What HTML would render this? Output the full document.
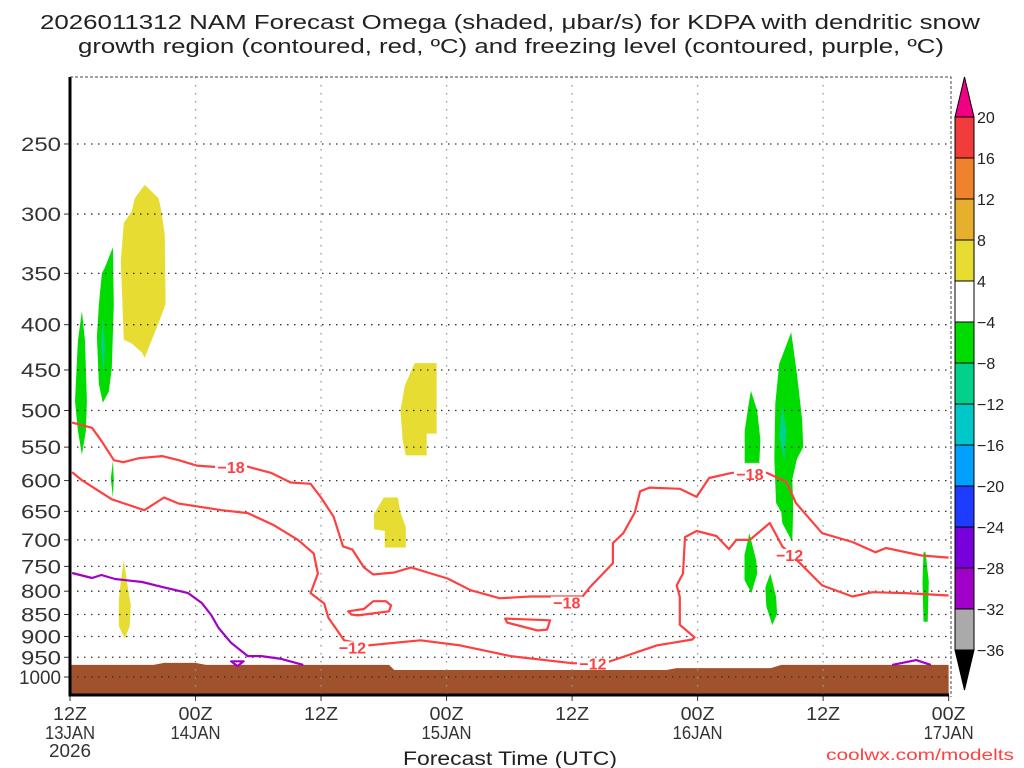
<!DOCTYPE html>
<html><head><meta charset="utf-8"><style>
html,body{margin:0;padding:0;background:#fff;}
svg{display:block;font-family:"Liberation Sans",sans-serif;}
</style></head><body>
<svg id="chart" width="1024" height="768" viewBox="0 0 1024 768" xmlns="http://www.w3.org/2000/svg">
<text x="40" y="29" font-size="20" fill="#222" textLength="940" lengthAdjust="spacingAndGlyphs">2026011312 NAM Forecast Omega (shaded, μbar/s) for KDPA with dendritic snow</text>
<text x="78" y="53" font-size="20" fill="#222" textLength="866" lengthAdjust="spacingAndGlyphs">growth region (contoured, red, ºC) and freezing level (contoured, purple, ºC)</text>
<g id="plot"></g>
<g id="cbar"></g>
<text x="510" y="765" font-size="19" fill="#222" text-anchor="middle" textLength="214" lengthAdjust="spacingAndGlyphs">Forecast Time (UTC)</text>
<text x="826" y="760" font-size="16" fill="#ff4040" textLength="188" lengthAdjust="spacingAndGlyphs">coolwx.com/modelts</text>
</svg>
<script>
const NS="http://www.w3.org/2000/svg";
const levels=[250,300,350,400,450,500,550,600,650,700,750,800,850,900,950,1000];
const xHours=[0,12,24,36,48,60,72,84];
const xTop=["12Z","00Z","12Z","00Z","12Z","00Z","12Z","00Z"];
const xMid=["13JAN","14JAN","","15JAN","","16JAN","","17JAN"];
const cbLabels=[20,16,12,8,4,-4,-8,-12,-16,-20,-24,-28,-32,-36];
const cbColors=["#f23c3c","#f0822d","#e6af2d","#e6dc32","#ffffff","#00dc00","#00d28c","#00c8c8","#00a0ff","#1e3cff","#7800dc","#a000c8","#aaaaaa"];
// terrain (surface pressure, hPa)
const terrHours=[0,8,9,12,13,24,30.5,31,57,58,67,68,84];
const terrP=[969,969,964,964,969,969,969,982,982,977,977,969,969];
// -18 C contour (upper)
const c18H=[0.2,2.1,3.0,4.2,5.1,6.6,8.8,10.4,12.1,13.8,16.6,19.2,21.1,23.0,24.0,25.2,26.1,27.0,28.1,29.0,31.0,32.6,34.2,36.1,38.3,41.1,44.0,49.0,49.7,51.9,51.9,52.9,54.0,54.5,55.4,58.3,59.9,61.1,63.3,66.6,68.5,69.4,71.9,74.8,77.0,78.0,81.4,84];
const c18P=[516,523,541,569,572,566,563,569,577,579,577,588,603,605,627,659,712,718,752,766,762,752,762,774,798,815,811,811,792,744,706,688,652,617,611,613,626,596,588,588,602,636,688,704,723,715,729,733];
// -12 C contour (lower)
const c12H=[0.2,1.1,4.0,7.1,9.0,10.4,14.5,17.0,19.5,21.8,23.3,23.7,23.0,24.3,24.7,26.2,28.5,33.5,37.3,42.1,48.1,51.3,56.1,59.5,59.7,58.3,58.3,58.0,58.6,58.8,59.9,61.8,63.0,63.7,65.0,66.9,68.1,69.7,71.9,74.8,76.7,79.9,84];
const c12P=[587,599,630,648,627,637,648,653,674,700,725,764,804,826,857,909,921,909,921,947,965,963,921,907,902,873,812,788,764,695,684,693,717,700,700,670,712,742,788,811,802,804,809];
// closed -18 loops
const loopAH=[26.6,28.1,29.0,30.2,30.7,30.5,27.5,26.9];
const loopAP=[843,838,821,821,830,843,852,850];
const loopBH=[41.6,45.9,45.6,44.7,41.8];
const loopBP=[859,863,884,886,868];
// freezing level (0C)
const frzH=[0.2,2.1,3.0,4.3,6.9,8.8,11.3,12.6,13.5,14.2,15.4,17.0,18.3,20.2,22.3];
const frzP=[763,773,767,775,781,791,804,825,851,880,915,947,947,954,969];
const frzTriH=[15.4,16.6,16.0];
const frzTriP=[960,960,972];
const frzRH=[78.6,80.9,82.3];
const frzRP=[969,957,969];
// contour labels
const lblText=["-18","-18","-18","-12","-12","-12"];
const lblH=[15.4,47.5,65.0,27.0,50.0,68.8];
const lblP=[579,824,590,926,966,728];
// omega shaded regions
const omegaNames=["omega-green-1","omega-green-2","omega-teal-1","omega-yellow-1","omega-green-3","omega-yellow-2","omega-yellow-3","omega-yellow-4","omega-green-a","omega-green-b","omega-teal-b","omega-green-c","omega-green-d","omega-green-e"];
const omegaColor=["#00dc00","#00dc00","#00d28c","#e6dc32","#00dc00","#e6dc32","#e6dc32","#e6dc32","#00dc00","#00dc00","#00d28c","#00dc00","#00dc00","#00dc00"];
const omegaH=[
[1.14,1.43,1.62,1.52,1.14,0.76,0.48,0.76],
[4.1,4.19,4.0,3.71,3.14,2.76,2.57,2.76,3.05,3.33],
[3.14,3.33,3.24,2.95],
[7.14,8.48,8.76,9.05,9.14,8.48,7.14,6.86,5.9,5.14,4.86,5.14,5.9,6.19],
[4.1,4.19,4.1,3.9],
[5.14,5.43,5.81,5.71,5.24,4.67,4.67,4.86],
[32.95,35.05,35.05,34.1,34.1,32.1,31.8,31.6,32.0],
[30.0,31.33,31.6,32.1,32.1,30.1,30.1,29.05,29.05],
[65.1,65.7,66.0,65.9,64.5,64.5,64.86],
[68.95,69.5,70.0,70.1,69.5,69.05,69.14,69.05,68.1,68.0,67.5,67.33,67.43,67.8],
[68.1,68.5,68.3,67.8],
[64.95,65.6,65.7,65.14,64.48,64.48],
[66.95,67.5,67.6,67.14,66.57,66.48],
[81.8,82.1,82.0,81.6,81.5,81.6]];
const omegaP=[
[386,417,488,527,561,527,488,417],
[327,379,448,476,490,467,413,379,350,345],
[393,423,454,423],
[278,288,299,316,379,398,436,430,420,416,339,307,298,288],
[570,597,627,597],
[738,779,830,876,905,876,820,779],
[442,442,531,531,562,562,540,500,469],
[627,627,652,677,714,714,684,681,655],
[475,500,540,573,573,527,494],
[408,455,513,550,567,598,641,704,670,652,636,567,491,443],
[494,527,571,533],
[688,738,764,804,777,728],
[764,812,848,874,832,792],
[723,781,866,866,781,723]];

const X0=70,XS=10.46,Y1000=677,YK=384.5,TOP=77,BOT=695,RIGHT=949;
const X=h=>X0+h*XS;
const Y=p=>Y1000-YK*Math.log(1000/p);
function el(tag,attrs,parent){const e=document.createElementNS(NS,tag);for(const k in attrs)e.setAttribute(k,attrs[k]);parent.appendChild(e);return e;}
const plot=document.getElementById('plot');
const pts=(H,P)=>H.map((h,i)=>X(h).toFixed(1)+','+Y(P[i]).toFixed(1)).join(' ');

omegaH.forEach((H,i)=>{
  const poly=el('polygon',{points:pts(H,omegaP[i]),fill:omegaColor[i]},plot);
  
  
});
{
  let d='M'+X(0)+','+BOT;
  terrHours.forEach((h,i)=>{d+=' L'+X(h).toFixed(1)+','+Y(terrP[i]).toFixed(1);});
  d+=' L'+X(84)+','+BOT+' Z';
  const t=el('path',{d:d,fill:'#a0522d'},plot);
  
  
}
levels.forEach(p=>{
  const g=el('line',{x1:X0,x2:RIGHT,y1:Y(p),y2:Y(p),stroke:'#333','stroke-width':1.3,'stroke-dasharray':'1.5 5.5'},plot);
  
  
  const tk=el('line',{x1:X0-6,x2:X0,y1:Y(p),y2:Y(p),stroke:'#333','stroke-width':1},plot);
  
  
  const s=String(p);
  const tx=el('text',{x:X0-9,y:Y(p)+7,'font-size':19,fill:'#333','text-anchor':'end',textLength:s.length>3?42:40,lengthAdjust:'spacingAndGlyphs'},plot);
  tx.textContent=s;
  
  
});
xHours.forEach((h,i)=>{
  if(h>0&&h<84){
    const g=el('line',{x1:X(h),x2:X(h),y1:TOP,y2:BOT,stroke:'#999','stroke-width':1.3,'stroke-dasharray':'1.5 6.5'},plot);
    
    
  }
  const tk=el('line',{x1:X(h),x2:X(h),y1:BOT,y2:BOT+6,stroke:'#333','stroke-width':1},plot);
  
  
  const t1=el('text',{x:X(h),y:720,'font-size':18,fill:'#333','text-anchor':'middle',textLength:34,lengthAdjust:'spacingAndGlyphs'},plot);
  t1.textContent=xTop[i];
  
  
  if(xMid[i]){
    const t2=el('text',{x:X(h),y:739,'font-size':18,fill:'#333','text-anchor':'middle',textLength:50,lengthAdjust:'spacingAndGlyphs'},plot);
    t2.textContent=xMid[i];
    
    
  }
});
{
  const yr=el('text',{x:X(0),y:757,'font-size':18,fill:'#333','text-anchor':'middle',textLength:42,lengthAdjust:'spacingAndGlyphs'},plot);
  yr.textContent='2026';
  
  
}
function line(H,P,color,name,closed){
  const l=el(closed?'polygon':'polyline',{points:pts(H,P),fill:'none',stroke:color,'stroke-width':2.2,'stroke-linejoin':'round'},plot);
  
  
}
line(c18H,c18P,'#ff4040','contour-minus18',false);
line(c12H,c12P,'#ff4040','contour-minus12',false);
line(loopAH,loopAP,'#ff4040','contour-loop-a',true);
line(loopBH,loopBP,'#ff4040','contour-loop-b',true);
line(frzH,frzP,'#a000c8','freezing-level',false);
line(frzTriH,frzTriP,'#a000c8','freezing-level-small',true);
line(frzRH,frzRP,'#a000c8','freezing-level-right',false);
lblText.forEach((t,i)=>{
  const bg=el('rect',{x:X(lblH[i])-16,y:Y(lblP[i])-6,width:32,height:10,fill:'#fff'},plot);
  
  
  const tx=el('text',{x:X(lblH[i]),y:Y(lblP[i])+6,'font-size':16,'font-weight':'bold',fill:'#ff4040','text-anchor':'middle'},plot);
  tx.textContent=t.replace('-','−');
  
  
});
{
  const f=el('path',{d:`M${X0},${TOP} L${X0},${BOT} L${RIGHT},${BOT}`,fill:'none',stroke:'#000','stroke-width':3},plot);
  
  
  const f2=el('path',{d:`M${X0},${TOP} L${RIGHT+2},${TOP} L${RIGHT+2},${BOT+2}`,fill:'none',stroke:'#444','stroke-width':1,'stroke-dasharray':'3 2'},plot);
  
  
}
const cb=document.getElementById('cbar');
const CBX=955,CBW=19,CBT=117,CBS=41;
{
  const tri=el('polygon',{points:`${CBX},${CBT} ${CBX+CBW/2},${CBT-40} ${CBX+CBW},${CBT}`,fill:'#f00082',stroke:'#000','stroke-width':1},cb);
  
  
}
cbColors.forEach((c,i)=>{
  const r=el('rect',{x:CBX,y:CBT+i*CBS,width:CBW,height:CBS,fill:c,stroke:'#000','stroke-width':1},cb);
  
  
});
{
  const b=CBT+cbColors.length*CBS;
  const tri=el('polygon',{points:`${CBX},${b} ${CBX+CBW/2},${b+40} ${CBX+CBW},${b}`,fill:'#000',stroke:'#000','stroke-width':1},cb);
  
  
}
cbLabels.forEach((v,i)=>{
  const t=el('text',{x:CBX+CBW+3,y:CBT+i*CBS+6,'font-size':16,fill:'#222'},cb);
  t.textContent=v<0?'−'+(-v):String(v);
  
  
});
</script>
</body></html>
